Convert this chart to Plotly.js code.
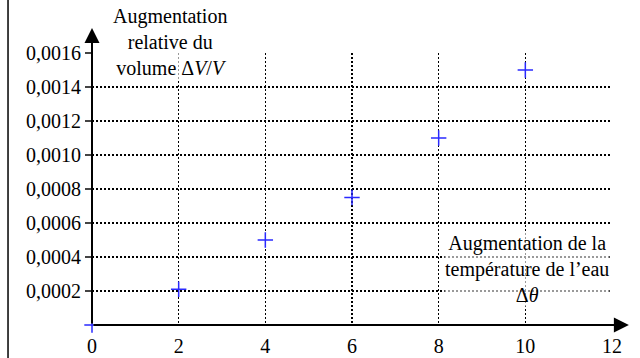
<!DOCTYPE html>
<html>
<head>
<meta charset="utf-8">
<script src="https://cdn.plot.ly/plotly-3.0.1.min.js"></script>
<style>
#chart svg text { font-family: Liberation Serif, Times New Roman, DejaVu Serif, serif !important; }
</style>
</head>
<body style="margin:0">
<div id="chart" style="width:640px;height:358px"></div>
<script>
// Data
const deltaTheta = [0, 2, 4, 6, 8, 10];
const deltaVoverV = [0, 0.00021, 0.0005, 0.00075, 0.0011, 0.0015];
const xTickVals = [0, 2, 4, 6, 8, 10, 12];
const xTickText = ["0", "2", "4", "6", "8", "10", "12"];
const yTickVals = [0.0002, 0.0004, 0.0006, 0.0008, 0.0010, 0.0012, 0.0014, 0.0016];
const yTickText = ["0,0002", "0,0004", "0,0006", "0,0008", "0,0010", "0,0012", "0,0014", "0,0016"];
const yTitle = "Augmentation<br>relative du<br>volume Δ<i>V</i>/<i>V</i>";
const xTitle = "Augmentation de la<br>température de l’eau<br>Δ<i>θ</i>";

function mkFont() { return {family: "Liberation Serif, Times New Roman, DejaVu Serif, serif", size: 20, color: "#000000"}; }

const trace = {
  x: deltaTheta, y: deltaVoverV, type: "scatter", mode: "markers",
  marker: {symbol: "cross-thin", size: 11, line: {color: "#2a2aff", width: 1.5}, color: "#2a2aff"},
  cliponaxis: false, hoverinfo: "none"
};

const layout = {
  width: 640, height: 358,
  margin: {l: 92, r: 28, t: 53, b: 33, pad: 0},
  paper_bgcolor: "#ffffff", plot_bgcolor: "#ffffff",
  showlegend: false,
  font: mkFont(),
  xaxis: {
    range: [0, 12], tickvals: xTickVals, ticktext: xTickText,
    showgrid: true, gridcolor: "#000000", gridwidth: 1.5, griddash: "2px,2px",
    zeroline: false, showline: false,
    ticks: "outside", ticklen: 3, tickcolor: "rgba(0,0,0,0)",
    tickfont: mkFont(), fixedrange: true
  },
  yaxis: {
    range: [0, 0.0016], tickvals: yTickVals, ticktext: yTickText,
    showgrid: true, gridcolor: "#000000", gridwidth: 1.5, griddash: "2px,2px",
    zeroline: false, showline: false,
    ticks: "outside", ticklen: 6, tickcolor: "#444444", tickwidth: 1.5,
    tickfont: mkFont(), fixedrange: true
  },
  shapes: [
    {type: "line", xref: "paper", yref: "paper", x0: -0.1615, x1: -0.1615, y0: -0.13, y1: 1.2,
     line: {color: "#000000", width: 1.5}}
  ],
  annotations: [
    {x: 12.39, y: 0, xref: "x", yref: "y", ax: 0, ay: 0, axref: "x", ayref: "y",
     showarrow: true, arrowhead: 2, arrowsize: 1.5, arrowwidth: 2, arrowcolor: "#000000", text: ""},
    {x: 0, y: 0.001747, xref: "x", yref: "y", ax: 0, ay: 0, axref: "x", ayref: "y",
     showarrow: true, arrowhead: 2, arrowsize: 1.5, arrowwidth: 2, arrowcolor: "#000000", text: ""},
    {x: 1.8, y: 1.04, xref: "x", yref: "paper", xanchor: "center", yanchor: "middle",
     showarrow: false, text: yTitle, font: mkFont(), align: "center",
     bgcolor: "rgba(255,255,255,0.6)", borderpad: 0},
    {x: 10.03, y: 0.00033, xref: "x", yref: "y", xanchor: "center", yanchor: "middle",
     showarrow: false, text: xTitle, font: mkFont(), align: "center",
     bgcolor: "rgba(255,255,255,0.6)", borderpad: 0}
  ]
};

Plotly.newPlot("chart", [trace], layout, {staticPlot: true});
</script>
</body>
</html>
